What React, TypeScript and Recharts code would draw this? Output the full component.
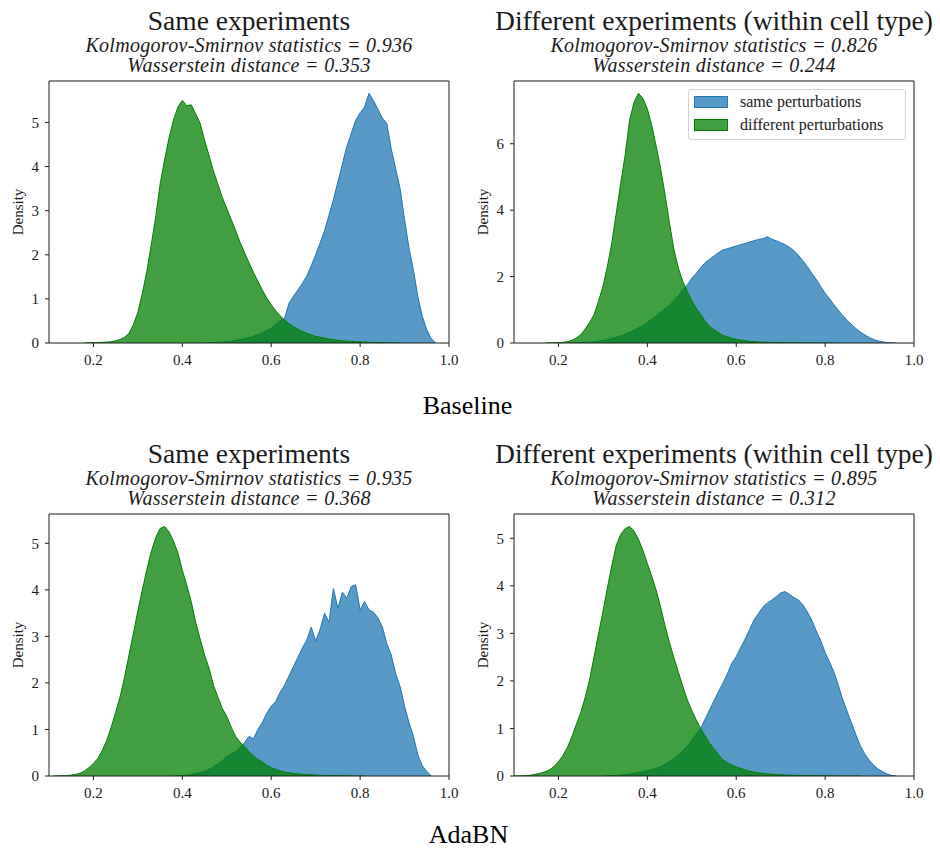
import { AreaChart, Area, XAxis, YAxis, ReferenceArea, Legend } from "recharts";

const SERIF = "'Liberation Serif', 'Times New Roman', serif";
const BLUE = "#1f77b4";
const GREEN = "#008000";
const INK = "#1a1a1a";

// histogram bin centres shared by all four panels
const bins = [
  0.1, 0.11, 0.12, 0.13, 0.14, 0.15, 0.16, 0.17, 0.18, 0.19,
  0.2, 0.21, 0.22, 0.23, 0.24, 0.25, 0.26, 0.27, 0.28, 0.29,
  0.3, 0.31, 0.32, 0.33, 0.34, 0.35, 0.36, 0.37, 0.38, 0.39,
  0.4, 0.41, 0.42, 0.43, 0.44, 0.45, 0.46, 0.47, 0.48, 0.49,
  0.5, 0.51, 0.52, 0.53, 0.54, 0.55, 0.56, 0.57, 0.58, 0.59,
  0.6, 0.61, 0.62, 0.63, 0.64, 0.65, 0.66, 0.67, 0.68, 0.69,
  0.7, 0.71, 0.72, 0.73, 0.74, 0.75, 0.76, 0.77, 0.78, 0.79,
  0.8, 0.81, 0.82, 0.83, 0.84, 0.85, 0.86, 0.87, 0.88, 0.89,
  0.9, 0.91, 0.92, 0.93, 0.94, 0.95, 0.96, 0.97, 0.98, 0.99,
  1.0,
];

const xTicks = [0.2, 0.4, 0.6, 0.8, 1.0];

// Baseline / same experiments
const baseSameFrom = 0.45;
const baseSameSame = [
  0, 0.005, 0.01, 0.015, 0.02,
  0.03, 0.04, 0.06, 0.08, 0.1, 0.12, 0.15, 0.19, 0.23, 0.28,
  0.34, 0.42, 0.5, 0.56, 0.9, 1.06, 1.2, 1.35, 1.52, 1.75,
  2.0, 2.27, 2.55, 2.9, 3.25, 3.65, 4.05, 4.45, 4.75, 5.05,
  5.22, 5.35, 5.66, 5.5, 5.3, 5.1, 4.98, 4.4, 3.95, 3.5,
  2.8, 2.15, 1.65, 1.05, 0.6, 0.3, 0.1, 0,
];
const baseSameDiffFrom = 0.18;
const baseSameDiff = [
  0, 0.005, 0.01, 0.01, 0.015, 0.02, 0.03, 0.05, 0.08, 0.13,
  0.22, 0.42, 0.7, 1.12, 1.62, 2.22, 2.85, 3.6, 4.15, 4.65,
  5.05, 5.35, 5.5, 5.38, 5.4, 5.2, 4.98, 4.6, 4.25, 3.9,
  3.6, 3.3, 3.05, 2.8, 2.55, 2.28, 2.05, 1.82, 1.6, 1.4,
  1.2, 1.02, 0.87, 0.73, 0.62, 0.52, 0.44, 0.37, 0.31, 0.26,
  0.22, 0.18, 0.15, 0.13, 0.11, 0.09, 0.075, 0.06, 0.05, 0.04,
  0.035, 0.03, 0.025, 0.02, 0.015, 0.012, 0.01, 0.008, 0.006, 0.004,
  0.002, 0,
];

// Baseline / different experiments
const baseDiffSameFrom = 0.22;
const baseDiffSame = [
  0, 0.005, 0.01, 0.015, 0.02, 0.03, 0.04, 0.06,
  0.08, 0.1, 0.13, 0.17, 0.21, 0.26, 0.32, 0.38, 0.45, 0.53,
  0.62, 0.72, 0.82, 0.93, 1.03, 1.13, 1.28, 1.42, 1.6, 1.75,
  1.95, 2.1, 2.27, 2.42, 2.52, 2.62, 2.72, 2.8, 2.84, 2.88,
  2.92, 2.96, 3.0, 3.04, 3.08, 3.12, 3.14, 3.2, 3.13, 3.08,
  3.02, 2.96, 2.88, 2.78, 2.64, 2.48, 2.3, 2.1, 1.92, 1.7,
  1.5, 1.33, 1.15, 0.98, 0.82, 0.68, 0.55, 0.43, 0.32, 0.24,
  0.16, 0.1, 0.06, 0.03, 0.015, 0.005, 0,
];
const baseDiffDiffFrom = 0.17;
const baseDiffDiff = [
  0, 0.005, 0.01, 0.015, 0.02, 0.04, 0.08, 0.15, 0.25, 0.42,
  0.62, 0.85, 1.25, 1.7, 2.3, 3.0, 3.9, 4.8, 5.65, 6.7,
  7.25, 7.52, 7.37, 7.05, 6.55, 5.92, 5.25, 4.45, 3.6, 2.8,
  2.25, 1.85, 1.55, 1.28, 1.05, 0.86, 0.66, 0.5, 0.4, 0.31,
  0.23, 0.18, 0.14, 0.11, 0.09, 0.07, 0.05, 0.04, 0.03, 0.025,
  0.02, 0.015, 0.012, 0.01, 0.008, 0.007, 0.006, 0.005, 0.004, 0.003,
  0.003, 0.002, 0.002, 0.001, 0.001, 0,
];

// AdaBN / same experiments
const adaSameSameFrom = 0.38;
const adaSameSame = [
  0, 0.005, 0.01, 0.02, 0.03, 0.05, 0.07, 0.1, 0.14, 0.2,
  0.26, 0.33, 0.42, 0.47, 0.52, 0.62, 0.72, 0.85, 0.8, 1.0,
  1.15, 1.35, 1.5, 1.6, 1.8, 1.95, 2.15, 2.35, 2.55, 2.75,
  2.92, 3.2, 2.9, 3.15, 3.5, 3.3, 4.03, 3.6, 3.95, 3.82,
  4.07, 4.11, 3.57, 3.75, 3.57, 3.52, 3.4, 3.2, 2.85, 2.6,
  2.2, 1.92, 1.5, 1.15, 0.85, 0.45, 0.22, 0.1, 0,
];
const adaSameDiffFrom = 0.11;
const adaSameDiff = [
  0, 0.002, 0.005, 0.01, 0.02, 0.035, 0.06, 0.11, 0.18,
  0.27, 0.38, 0.55, 0.77, 1.05, 1.37, 1.7, 2.12, 2.6, 3.07,
  3.55, 4.0, 4.43, 4.82, 5.12, 5.32, 5.36, 5.25, 5.05, 4.8,
  4.42, 4.1, 3.75, 3.3, 2.95, 2.6, 2.32, 1.95, 1.7, 1.45,
  1.28, 1.05, 0.85, 0.73, 0.63, 0.52, 0.43, 0.36, 0.3, 0.23,
  0.18, 0.14, 0.11, 0.085, 0.07, 0.055, 0.045, 0.035, 0.03, 0.025,
  0.02, 0.015, 0.012, 0.01, 0.008, 0.006, 0.005, 0.004, 0.003, 0.002,
  0.001, 0,
];

// AdaBN / different experiments
const adaDiffSameFrom = 0.3;
const adaDiffSame = [
  0, 0.005, 0.01, 0.015, 0.02, 0.03, 0.04, 0.05, 0.07, 0.09,
  0.11, 0.13, 0.16, 0.2, 0.25, 0.3, 0.37, 0.45, 0.53, 0.63,
  0.75, 0.88, 1.0, 1.2, 1.39, 1.58, 1.77, 1.95, 2.15, 2.37,
  2.51, 2.7, 2.88, 3.08, 3.28, 3.42, 3.55, 3.64, 3.7, 3.77,
  3.85, 3.88, 3.82, 3.75, 3.7, 3.6, 3.45, 3.28, 3.05, 2.85,
  2.6, 2.4, 2.18, 1.9, 1.6, 1.35, 1.1, 0.85, 0.62, 0.45,
  0.32, 0.22, 0.14, 0.09, 0.04, 0.01, 0,
];
const adaDiffDiffFrom = 0.1;
const adaDiffDiff = [
  0, 0.002, 0.005, 0.01, 0.02, 0.04, 0.06, 0.09, 0.13, 0.2,
  0.3, 0.43, 0.6, 0.82, 1.08, 1.33, 1.65, 2.02, 2.5, 2.98,
  3.45, 3.95, 4.42, 4.85, 5.08, 5.2, 5.25, 5.15, 4.98, 4.75,
  4.47, 4.2, 3.9, 3.55, 3.15, 2.8, 2.48, 2.18, 1.88, 1.6,
  1.38, 1.18, 1.0, 0.84, 0.69, 0.57, 0.45, 0.34, 0.28, 0.23,
  0.19, 0.16, 0.13, 0.1, 0.085, 0.07, 0.055, 0.045, 0.035, 0.03,
  0.025, 0.02, 0.017, 0.014, 0.012, 0.01, 0.008, 0.007, 0.006, 0.005,
  0.004, 0.003, 0.003, 0.002, 0.002, 0.001, 0.001, 0.001, 0,
];

const titles = ["Same experiments", "Different experiments (within cell type)"];
const ksStats = ["0.936", "0.826", "0.935", "0.895"];
const wassDist = ["0.353", "0.244", "0.368", "0.312"];
const yTicksList = [[0, 1, 2, 3, 4, 5], [0, 2, 4, 6], [0, 1, 2, 3, 4, 5], [0, 1, 2, 3, 4, 5]];
const yMaxList = [5.94, 7.89, 5.63, 5.51];
const rowLabels = ["Baseline", "AdaBN"];
const seriesNames = ["same perturbations", "different perturbations"];

const PLOT_W = 400;
const PLOT_H = 262;
const AXIS_W = 45;
const TOP_PAD = 5;

function buildRows(same: number[], sameFrom: number, diff: number[], diffFrom: number) {
  return bins.map((x) => {
    const si = Math.round((x - sameFrom) * 100);
    const di = Math.round((x - diffFrom) * 100);
    return { x, same: si >= 0 ? same[si] ?? null : null, diff: di >= 0 ? diff[di] ?? null : null };
  });
}

function LegendBox({ payload }: any) {
  // keep the series order (recharts sorts legend items by name)
  const items = [...(payload || [])].sort(
    (a: any, b: any) => seriesNames.indexOf(a.value) - seriesNames.indexOf(b.value)
  );
  return (
    <div
      style={{
        width: 218,
        height: 51,
        boxSizing: "border-box",
        border: "1px solid #d4d4d4",
        borderRadius: 3,
        background: "rgba(255,255,255,0.8)",
        fontFamily: SERIF,
      }}
    >
      {items.map((p: any) => (
        <div key={p.value} style={{ display: "flex", alignItems: "center", height: 23, paddingLeft: 5 }}>
          <div
            style={{
              width: 34,
              height: 12,
              boxSizing: "border-box",
              background: p.color === BLUE ? "rgba(31,119,180,0.75)" : "rgba(0,128,0,0.75)",
              border: `1px solid ${p.color}`,
            }}
          />
          <span style={{ marginLeft: 12, fontSize: 16, lineHeight: 1, color: INK }}>{p.value}</span>
        </div>
      ))}
    </div>
  );
}

type PanelProps = {
  left: number;
  top: number;
  idx: number;
  same: number[];
  sameFrom: number;
  diff: number[];
  diffFrom: number;
  legend?: boolean;
};

function Panel({ left, top, idx, same, sameFrom, diff, diffFrom, legend }: PanelProps) {
  const rows = buildRows(same, sameFrom, diff, diffFrom);
  const yMax = yMaxList[idx];
  const tickStyle = { fill: INK, fontSize: 15, fontFamily: SERIF };
  return (
    <div style={{ position: "absolute", left: left - AXIS_W, top: top - TOP_PAD }}>
      <AreaChart
        width={AXIS_W + PLOT_W + 10}
        height={TOP_PAD + PLOT_H + 30}
        data={rows}
        margin={{ top: TOP_PAD, right: 10, bottom: 0, left: 0 }}
      >
        <XAxis
          type="number"
          dataKey="x"
          domain={[0.1, 1.0]}
          ticks={xTicks}
          tickFormatter={(v: number) => v.toFixed(1)}
          allowDataOverflow
          height={30}
          tickSize={4}
          tickMargin={7}
          axisLine={false}
          tickLine={{ stroke: INK }}
          tick={tickStyle}
        />
        <YAxis
          type="number"
          domain={[0, yMax]}
          ticks={yTicksList[idx]}
          allowDataOverflow
          width={AXIS_W}
          tickSize={4}
          tickMargin={6}
          axisLine={false}
          tickLine={{ stroke: INK }}
          tick={tickStyle}
        />
        <Area
          type="linear"
          dataKey="same"
          name={seriesNames[0]}
          stroke={BLUE}
          strokeWidth={1}
          fill={BLUE}
          fillOpacity={0.75}
          dot={false}
          activeDot={false}
          isAnimationActive={false}
        />
        <Area
          type="linear"
          dataKey="diff"
          name={seriesNames[1]}
          stroke={GREEN}
          strokeWidth={1}
          fill={GREEN}
          fillOpacity={0.75}
          dot={false}
          activeDot={false}
          isAnimationActive={false}
        />
        <ReferenceArea x1={0.1} x2={1.0} y1={0} y2={yMax} fill="none" stroke={INK} strokeWidth={1} ifOverflow="visible" />
        {legend && (
          <Legend
            layout="vertical"
            align="center"
            verticalAlign="middle"
            wrapperStyle={{ left: 219, top: 13, width: 218 }}
            content={(props: any) => <LegendBox payload={props.payload} />}
          />
        )}
      </AreaChart>
    </div>
  );
}

const panelPos = [
  { left: 49, top: 81 },
  { left: 514, top: 81 },
  { left: 49, top: 514 },
  { left: 514, top: 514 },
];

export default function App() {
  return (
    <div style={{ position: "absolute", left: 0, top: 0, width: 940, height: 849, background: "#fff" }}>
      <svg width={940} height={849} style={{ position: "absolute", left: 0, top: 0 }}>
        {panelPos.map((p, i) => {
          const cx = p.left + PLOT_W / 2;
          const cy = p.top + PLOT_H / 2;
          return (
            <g key={i} fontFamily={SERIF} fill={INK} textAnchor="middle">
              <text x={cx} y={p.top - 51} fontSize={27.5}>
                {titles[i % 2]}
              </text>
              <text x={cx} y={p.top - 29} fontSize={20} fontStyle="italic" letterSpacing={0.3}>
                {`Kolmogorov-Smirnov statistics = ${ksStats[i]}`}
              </text>
              <text x={cx} y={p.top - 9} fontSize={20} fontStyle="italic" letterSpacing={0.3}>
                {`Wasserstein distance = ${wassDist[i]}`}
              </text>
              <text
                x={p.left - 31}
                y={cy}
                fontSize={15}
                dominantBaseline="central"
                transform={`rotate(-90, ${p.left - 31}, ${cy})`}
              >
                Density
              </text>
            </g>
          );
        })}
        <text x={467.5} y={414} fontSize={26} fontFamily={SERIF} fill="#000" textAnchor="middle">
          {rowLabels[0]}
        </text>
        <text x={468.5} y={843} fontSize={26} fontFamily={SERIF} fill="#000" textAnchor="middle">
          {rowLabels[1]}
        </text>
      </svg>
      <Panel {...panelPos[0]} idx={0} same={baseSameSame} sameFrom={baseSameFrom} diff={baseSameDiff} diffFrom={baseSameDiffFrom} />
      <Panel
        {...panelPos[1]}
        idx={1}
        same={baseDiffSame}
        sameFrom={baseDiffSameFrom}
        diff={baseDiffDiff}
        diffFrom={baseDiffDiffFrom}
        legend
      />
      <Panel {...panelPos[2]} idx={2} same={adaSameSame} sameFrom={adaSameSameFrom} diff={adaSameDiff} diffFrom={adaSameDiffFrom} />
      <Panel {...panelPos[3]} idx={3} same={adaDiffSame} sameFrom={adaDiffSameFrom} diff={adaDiffDiff} diffFrom={adaDiffDiffFrom} />
    </div>
  );
}
